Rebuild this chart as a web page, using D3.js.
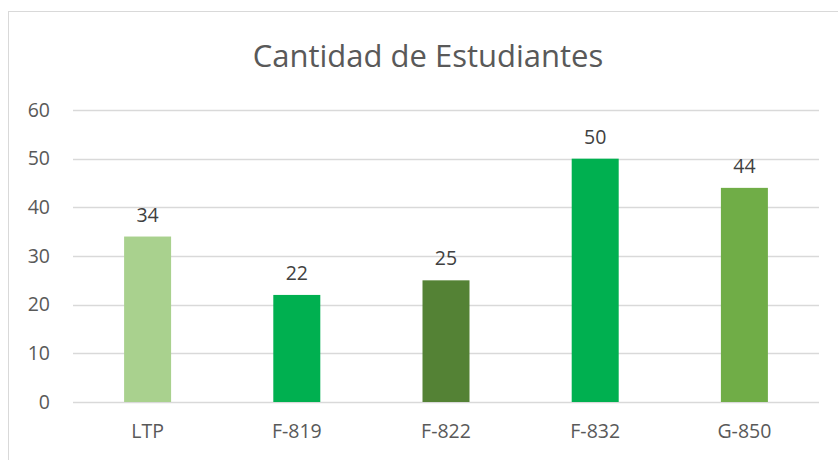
<!DOCTYPE html>
<html>
<head>
<meta charset="utf-8">
<script src="https://cdn.jsdelivr.net/npm/d3@7"></script>
<style>
  body { margin: 0; background: #fff; }
  text { font-family: "Open Sans", "Noto Sans", sans-serif; }
</style>
</head>
<body>
<div id="chart"></div>
<script>
// data
var categories = ["LTP", "F-819", "F-822", "F-832", "G-850"];
var students = [34, 22, 25, 50, 44];
var barColors = ["#A9D18E", "#00B050", "#548235", "#00B050", "#70AD47"];
var yTicks = [0, 10, 20, 30, 40, 50, 60];

var width = 838, height = 460;
var margin = {top: 110, right: 19, bottom: 58, left: 73};

var svg = d3.select("#chart").append("svg")
    .attr("width", width)
    .attr("height", height);

// chart frame
svg.append("rect")
    .attr("x", 8.5).attr("y", 11.5)
    .attr("width", 840).attr("height", 460)
    .attr("fill", "none")
    .attr("stroke", "#d9d9d9");

svg.append("text")
    .attr("x", 428)
    .attr("y", 67)
    .attr("text-anchor", "middle")
    .attr("fill", "#595959")
    .style("font-size", "31px")
    .text("Cantidad de Estudiantes");

var g = svg.append("g")
    .attr("transform", "translate(" + margin.left + "," + margin.top + ")");

var w = width - margin.left - margin.right,
    h = height - margin.top - margin.bottom;

var x = d3.scaleBand().domain(categories).range([0, w]).paddingInner(0.685).paddingOuter(0.3425);
var y = d3.scaleLinear().domain([0, 60]).range([h, 0]);

// gridlines
g.selectAll(".grid").data(yTicks).enter()
    .append("line")
    .attr("class", "grid")
    .attr("x1", 0).attr("x2", w)
    .attr("y1", function (d) { return Math.round(y(d)) + 0.5; })
    .attr("y2", function (d) { return Math.round(y(d)) + 0.5; })
    .attr("stroke", "#d9d9d9")
    .attr("stroke-width", 1.3);

var yAxis = g.append("g")
    .call(d3.axisLeft(y).tickValues(yTicks).tickSize(0).tickPadding(23));
yAxis.select(".domain").remove();
yAxis.selectAll("text").attr("fill", "#595959").style("font-size", "19.5px");

g.selectAll(".bar").data(students).enter()
    .append("rect")
    .attr("class", "bar")
    .attr("x", function (d, i) { return x(categories[i]); })
    .attr("width", x.bandwidth())
    .attr("y", function (d) { return y(d); })
    .attr("height", function (d) { return h - y(d); })
    .attr("fill", function (d, i) { return barColors[i]; });

g.selectAll(".label").data(students).enter()
    .append("text")
    .attr("class", "label")
    .attr("x", function (d, i) { return x(categories[i]) + x.bandwidth() / 2; })
    .attr("y", function (d) { return y(d) - 15; })
    .attr("text-anchor", "middle")
    .attr("fill", "#404040")
    .style("font-size", "19.5px")
    .text(function (d) { return d; });

var xAxis = g.append("g")
    .attr("transform", "translate(0," + h + ")")
    .call(d3.axisBottom(x).tickSize(0).tickPadding(22));
xAxis.select(".domain").remove();
xAxis.selectAll("text").attr("fill", "#595959").style("font-size", "19.5px");
</script>
</body>
</html>
